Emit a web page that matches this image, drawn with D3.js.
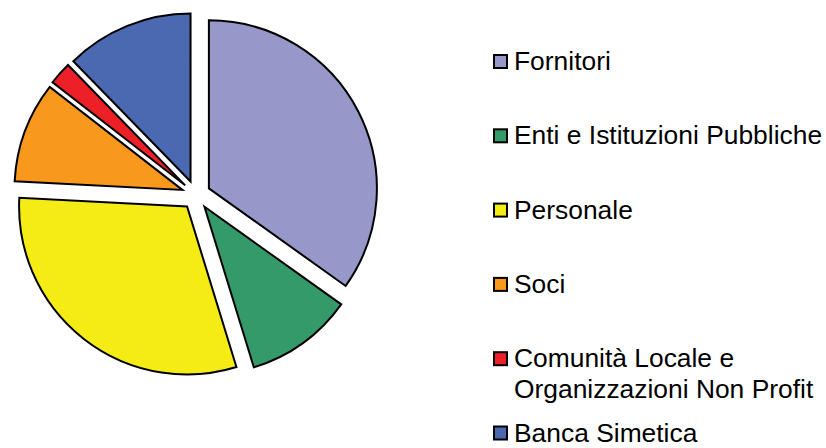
<!DOCTYPE html>
<html>
<head>
<meta charset="utf-8">
<script src="https://cdn.jsdelivr.net/npm/d3@7"></script>
<style>
  html, body { margin: 0; padding: 0; background: #fff; }
  svg { display: block; }
</style>
</head>
<body>
<svg id="chart" width="826" height="448"></svg>
<script>
// Pie of value distribution by stakeholder (in %)
const categories = [
  ['Fornitori'],
  ['Enti e Istituzioni Pubbliche'],
  ['Personale'],
  ['Soci'],
  ['Comunità Locale e', 'Organizzazioni Non Profit'],
  ['Banca Simetica']
];
const values = [34.9, 10.4, 30.6, 9.7, 2.2, 12.3];
const colors = ['#9797c9', '#349a69', '#f5ec16', '#f8991d', '#ed2027', '#4a69b1'];

const svg = d3.select('#chart');

const cx = 196, cy = 195, radius = 168, explode = 14.5;

const pie = d3.pie().sort(null).value(d => d)(values);
const arc = d3.arc().innerRadius(0).outerRadius(radius);

// each slice pushed out along its middle angle
const offset = d => {
  const a = (d.startAngle + d.endAngle) / 2;
  return [Math.sin(a) * explode, -Math.cos(a) * explode];
};

svg.append('g')
    .attr('transform', `translate(${cx},${cy})`)
  .selectAll('path')
  .data(pie)
  .join('path')
    .attr('transform', d => `translate(${offset(d)})`)
    .attr('d', arc)
    .attr('fill', (d, i) => colors[i])
    .attr('stroke', '#000')
    .attr('stroke-width', 2)
    .attr('stroke-linejoin', 'miter');

// Legend
const rowY = d3.scalePoint().domain(d3.range(categories.length)).range([61.5, 433]);

const legend = svg.append('g')
  .selectAll('g')
  .data(categories)
  .join('g')
    .attr('transform', (d, i) => `translate(493,${rowY(i)})`);

legend.append('rect')
    .attr('x', 1)
    .attr('y', -6.5)
    .attr('width', 13)
    .attr('height', 13)
    .attr('fill', (d, i) => colors[i])
    .attr('stroke', '#000')
    .attr('stroke-width', 2);

legend.append('text')
    .attr('x', 21)
    .attr('y', 8.5)
    .attr('font-family', 'Liberation Sans, Arial, sans-serif')
    .attr('font-size', 26.4)
    .attr('fill', '#000')
  .selectAll('tspan')
  .data(d => d)
  .join('tspan')
    .attr('x', 21)
    .attr('dy', (d, i) => i === 0 ? 0 : 31)
    .text(d => d);
</script>
</body>
</html>
